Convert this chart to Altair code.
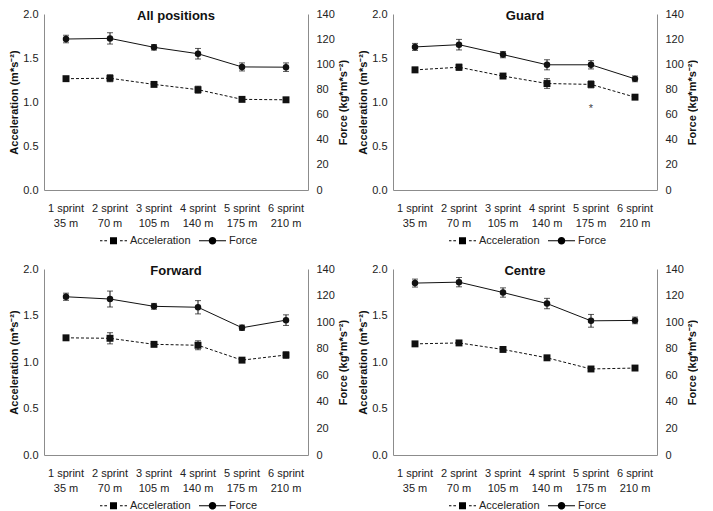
import altair as alt
import pandas as pd

sprints = ["1 sprint|35 m", "2 sprint|70 m", "3 sprint|105 m",
           "4 sprint|140 m", "5 sprint|175 m", "6 sprint|210 m"]

# All positions
all_acc = [1.265, 1.27, 1.20, 1.14, 1.03, 1.025]
all_acc_err = [0.025, 0.04, 0.02, 0.04, 0.025, 0.02]
all_force = [120.1, 120.6, 113.5, 108.4, 97.9, 97.7]
all_force_err = [3.0, 4.5, 2.2, 4.2, 3.2, 3.4]

# Guard
gu_acc = [1.365, 1.395, 1.295, 1.21, 1.20, 1.055]
gu_acc_err = [0.03, 0.035, 0.02, 0.055, 0.04, 0.02]
gu_force = [113.8, 115.6, 107.7, 99.6, 99.6, 88.4]
gu_force_err = [2.8, 4.2, 2.5, 4.0, 3.3, 2.3]

# Forward
fw_acc = [1.26, 1.255, 1.19, 1.18, 1.02, 1.075]
fw_acc_err = [0.02, 0.06, 0.025, 0.048, 0.02, 0.035]
fw_force = [119.1, 117.4, 111.9, 111.2, 95.8, 101.5]
fw_force_err = [2.7, 6.0, 2.2, 5.0, 2.0, 4.0]

# Centre
ce_acc = [1.195, 1.205, 1.135, 1.045, 0.925, 0.935]
ce_acc_err = [0.02, 0.02, 0.02, 0.02, 0.02, 0.02]
ce_force = [129.4, 130.1, 122.3, 114.0, 101.0, 101.3]
ce_force_err = [3.0, 3.5, 3.5, 3.9, 4.8, 2.5]

# significance marker (Guard, 5 sprint)
star_sprint = ["5 sprint|175 m"]
star_y = [0.955]

series = ["Acceleration", "Force"]
# legend glyphs: dashed line + square, solid line + circle (drawn as filled shapes)
legend_paths = [
    "M-1,-0.04H-0.82V0.04H-1Z"
    "M-0.68,-0.04H-0.48V0.04H-0.68Z"
    "M-0.26,-0.26H0.26V0.26H-0.26Z"
    "M0.48,-0.04H0.68V0.04H0.48Z"
    "M0.82,-0.04H1V0.04H0.82Z",
    "M-1,-0.04H1V0.04H-1Z"
    "M0.28,0A0.28,0.28,0,1,1,-0.28,0A0.28,0.28,0,1,1,0.28,0Z",
]

INK = "#111111"
SANS = "Liberation Sans"
W = 264


def panel(title, acc, acc_err, force, force_err, height, star=False):
    df = pd.DataFrame({
        "sprint": sprints,
        "acc": acc,
        "acc_lo": [a - e for a, e in zip(acc, acc_err)],
        "acc_hi": [a + e for a, e in zip(acc, acc_err)],
        "force": force,
        "f_lo": [a - e for a, e in zip(force, force_err)],
        "f_hi": [a + e for a, e in zip(force, force_err)],
    })
    xenc = alt.X("sprint:N", sort=sprints, title=None,
                 axis=alt.Axis(labelExpr="split(datum.label, '|')", labelAngle=0,
                               ticks=False, labelPadding=12, labelLineHeight=15,
                               labelFontSize=11, labelFont=SANS, labelColor="#222"))
    base = alt.Chart(df).encode(x=xenc)

    axA = alt.Axis(values=[0, 0.5, 1.0, 1.5, 2.0], format=".1f", ticks=False,
                   title="Acceleration  (m*s⁻²)", labelPadding=6, titlePadding=3)
    scA = alt.Scale(domain=[0, 2], nice=False)

    def ya(f):
        return alt.Y(f"{f}:Q", scale=scA, axis=axA)

    acc_line = base.mark_line(strokeDash=[3, 2], strokeWidth=1, color=INK).encode(y=ya("acc"))
    acc_rule = base.mark_rule(strokeWidth=1, color=INK).encode(y=ya("acc_lo"), y2="acc_hi:Q")
    acc_c1 = base.mark_tick(size=6, thickness=1, color=INK).encode(y=ya("acc_lo"))
    acc_c2 = base.mark_tick(size=6, thickness=1, color=INK).encode(y=ya("acc_hi"))
    acc_pt = base.mark_point(shape="square", filled=True, size=48, opacity=1,
                             color=INK).encode(y=ya("acc"))

    leg_df = pd.DataFrame({"series": series})
    legend_layer = alt.Chart(leg_df).transform_filter("false").mark_point(
        filled=True, color="black", opacity=1
    ).encode(
        shape=alt.Shape("series:N", scale=alt.Scale(domain=series, range=legend_paths),
                        legend=alt.Legend(orient="none", legendX=W / 2 - 76, legendY=height + 37,
                                          direction="horizontal", title=None,
                                          symbolSize=729, symbolStrokeWidth=0,
                                          symbolFillColor="black",
                                          labelFont=SANS, labelFontSize=11, labelColor="#222",
                                          columnPadding=8, labelOffset=3, padding=0))
    )

    title_df = pd.DataFrame({"t": [title]})
    title_layer = alt.Chart(title_df).mark_text(
        font=SANS, fontSize=13, fontWeight="bold", color="#111", baseline="middle"
    ).encode(x=alt.value(W / 2), y=alt.value(2), text="t:N")

    acc_layers = [acc_line, acc_rule, acc_c1, acc_c2, acc_pt, legend_layer, title_layer]
    if star:
        sdf = pd.DataFrame({"sprint": star_sprint, "y": star_y, "t": ["*"]})
        acc_layers.append(
            alt.Chart(sdf).mark_text(fontSize=11, color="#444", font=SANS, dy=3).encode(
                x=alt.X("sprint:N", sort=sprints), y=ya("y"), text="t:N")
        )
    acc_group = alt.layer(*acc_layers)

    axF = alt.Axis(values=list(range(0, 141, 20)), orient="right", ticks=False,
                   title="Force (kg*m*s⁻²)", labelPadding=8, titlePadding=3,
                   titleAngle=270, titleBaseline="top")
    scF = alt.Scale(domain=[0, 140], nice=False)

    def yf(f):
        return alt.Y(f"{f}:Q", scale=scF, axis=axF)

    f_line = base.mark_line(strokeWidth=1, color=INK).encode(y=yf("force"))
    f_rule = base.mark_rule(strokeWidth=1, color=INK).encode(y=yf("f_lo"), y2="f_hi:Q")
    f_c1 = base.mark_tick(size=6, thickness=1, color=INK).encode(y=yf("f_lo"))
    f_c2 = base.mark_tick(size=6, thickness=1, color=INK).encode(y=yf("f_hi"))
    f_pt = base.mark_point(shape="circle", filled=True, size=42, opacity=1,
                           color=INK).encode(y=yf("force"))
    f_group = alt.layer(f_line, f_rule, f_c1, f_c2, f_pt)

    return alt.layer(acc_group, f_group).resolve_scale(y="independent").properties(
        width=W, height=height,
    )


p1 = panel("All positions", all_acc, all_acc_err, all_force, all_force_err, 176)
p2 = panel("Guard", gu_acc, gu_acc_err, gu_force, gu_force_err, 176, star=True)
p3 = panel("Forward", fw_acc, fw_acc_err, fw_force, fw_force_err, 186)
p4 = panel("Centre", ce_acc, ce_acc_err, ce_force, ce_force_err, 186)

chart = alt.vconcat(
    alt.hconcat(p1, p2, spacing=8).resolve_scale(shape="independent").resolve_legend(shape="independent"),
    alt.hconcat(p3, p4, spacing=8).resolve_scale(shape="independent").resolve_legend(shape="independent"),
    spacing=17,
).resolve_scale(shape="independent").resolve_legend(shape="independent").configure_axis(
    domainColor="#8c8c8c", domainWidth=1, grid=False,
    labelFont=SANS, labelFontSize=11, labelColor="#222",
    titleFont=SANS, titleFontSize=11, titleFontWeight="bold", titleColor="#111",
).configure_view(stroke=None).properties(padding={"left": 0, "top": 0, "right": 0, "bottom": 0})

chart.save("out.html", embed_options={"renderer": "svg", "actions": False})
